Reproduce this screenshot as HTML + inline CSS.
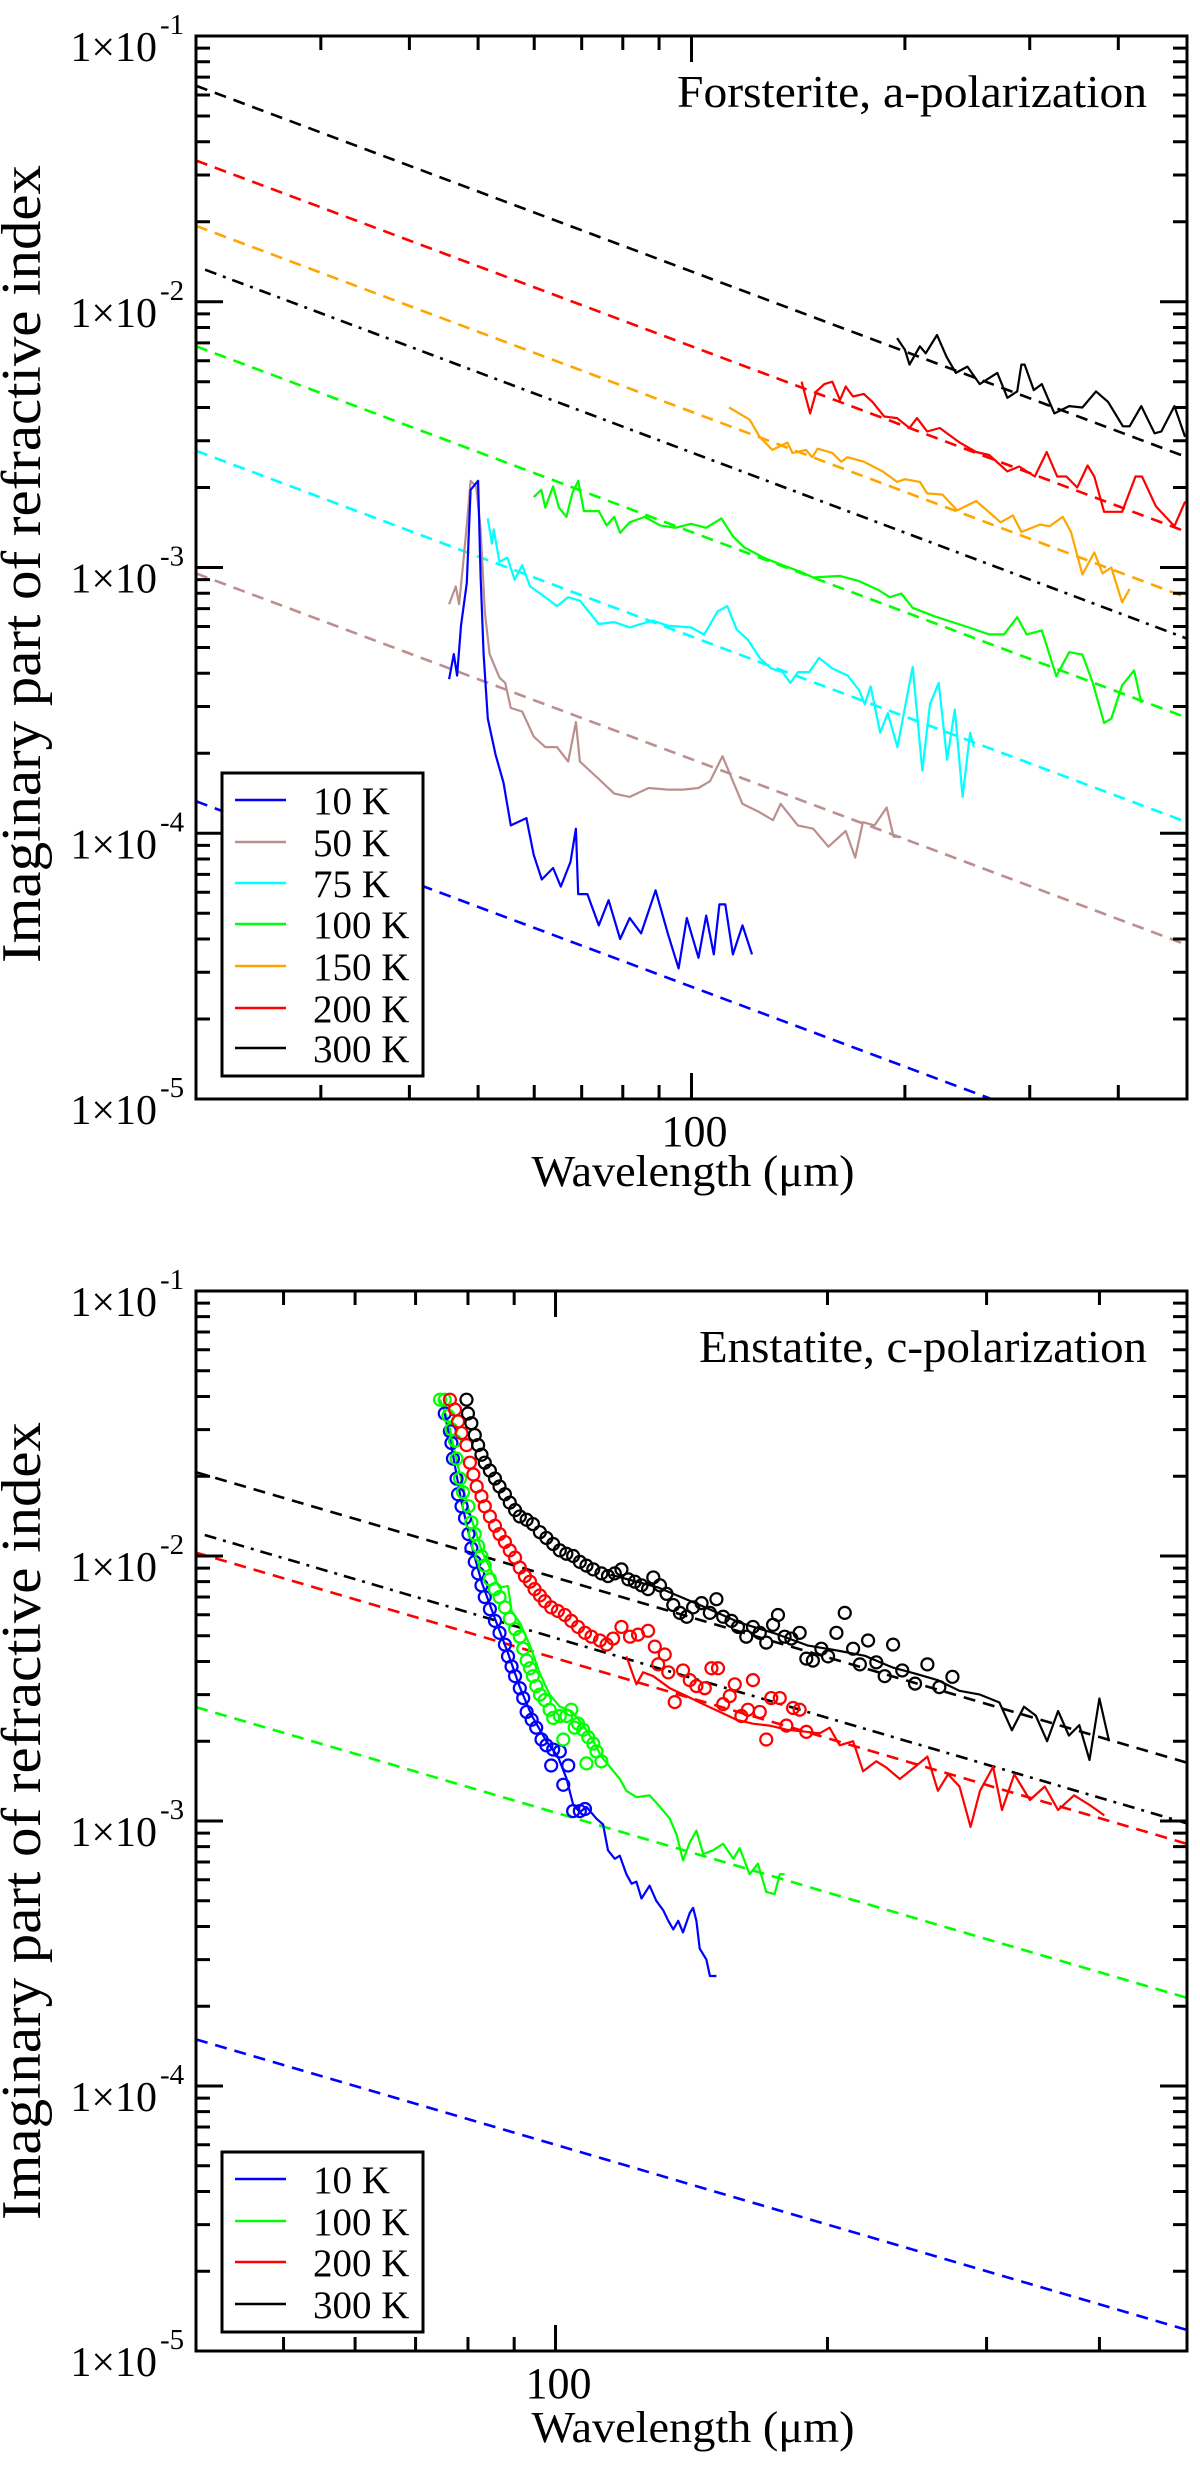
<!DOCTYPE html>
<html><head><meta charset="utf-8"><title>Imaginary refractive index</title>
<style>html,body{margin:0;padding:0;background:#fff}svg{display:block}svg text{font-family:"Liberation Serif","Times New Roman","DejaVu Serif",serif;fill:#000}</style>
</head><body>
<svg id="fig" width="1200" height="2467" viewBox="0 0 1200 2467" xmlns="http://www.w3.org/2000/svg" font-family="Liberation Serif, Times New Roman, serif">
<defs>
<clipPath id="clipTop"><rect x="196" y="36" width="991" height="1063"/></clipPath>
<clipPath id="clipBot"><rect x="196" y="1291" width="991" height="1060"/></clipPath>
</defs>
<g id="topPlot"></g>
<g id="botPlot"></g>

<text x="1147" y="107" text-anchor="end" font-size="46" textLength="470" lengthAdjust="spacingAndGlyphs">Forsterite, a-polarization</text>
<text x="1147" y="1362" text-anchor="end" font-size="46" textLength="448" lengthAdjust="spacingAndGlyphs">Enstatite, c-polarization</text>

<text transform="translate(40,564) rotate(-90)" text-anchor="middle" font-size="56" textLength="798" lengthAdjust="spacingAndGlyphs">Imaginary part of refractive index</text>
<text transform="translate(40,1821) rotate(-90)" text-anchor="middle" font-size="56" textLength="798" lengthAdjust="spacingAndGlyphs">Imaginary part of refractive index</text>
<text x="693" y="1186" text-anchor="middle" font-size="44" textLength="323" lengthAdjust="spacingAndGlyphs">Wavelength (μm)</text>
<text x="693" y="2442" text-anchor="middle" font-size="44" textLength="323" lengthAdjust="spacingAndGlyphs">Wavelength (μm)</text>

<g>
<rect x="222" y="773" width="201" height="303" fill="#fff" stroke="#000" stroke-width="3"/>
<g><line x1="235" y1="800" x2="286" y2="800" stroke="#0000ff" stroke-width="2.5"/><text x="313" y="814" font-size="39">10 K</text></g>
<g><line x1="235" y1="842" x2="286" y2="842" stroke="#bc8f8f" stroke-width="2.5"/><text x="313" y="856" font-size="39">50 K</text></g>
<g><line x1="235" y1="883" x2="286" y2="883" stroke="#00ffff" stroke-width="2.5"/><text x="313" y="897" font-size="39">75 K</text></g>
<g><line x1="235" y1="924" x2="286" y2="924" stroke="#00ff00" stroke-width="2.5"/><text x="313" y="938" font-size="39">100 K</text></g>
<g><line x1="235" y1="966" x2="286" y2="966" stroke="#ffa500" stroke-width="2.5"/><text x="313" y="980" font-size="39">150 K</text></g>
<g><line x1="235" y1="1008" x2="286" y2="1008" stroke="#ff0000" stroke-width="2.5"/><text x="313" y="1022" font-size="39">200 K</text></g>
<g><line x1="235" y1="1048" x2="286" y2="1048" stroke="#000" stroke-width="2.5"/><text x="313" y="1062" font-size="39">300 K</text></g>
</g>
<g>
<rect x="222" y="2152" width="201" height="180" fill="#fff" stroke="#000" stroke-width="3"/>
<g><line x1="235" y1="2179" x2="286" y2="2179" stroke="#0000ff" stroke-width="2.5"/><text x="313" y="2193" font-size="39">10 K</text></g>
<g><line x1="235" y1="2221" x2="286" y2="2221" stroke="#00ff00" stroke-width="2.5"/><text x="313" y="2235" font-size="39">100 K</text></g>
<g><line x1="235" y1="2262" x2="286" y2="2262" stroke="#ff0000" stroke-width="2.5"/><text x="313" y="2276" font-size="39">200 K</text></g>
<g><line x1="235" y1="2304" x2="286" y2="2304" stroke="#000" stroke-width="2.5"/><text x="313" y="2318" font-size="39">300 K</text></g>
</g>
</svg>
<script>
// ---------- axis data ----------
const topXRange = [20, 500];
const botXRange = [40, 500];
const yRange = [1e-5, 1e-1];
const topXMajorTicks = [100];
const topXMinorTicks = [30, 40, 50, 60, 70, 80, 90, 200, 300, 400];
const botXMajorTicks = [100];
const botXMinorTicks = [50, 60, 70, 80, 90, 200, 300, 400];
const yMajorTicks = [1e-1, 1e-2, 1e-3, 1e-4, 1e-5];
const yTickExponents = ['-1', '-2', '-3', '-4', '-5'];
const xTickLabels = ['100'];

// ---------- top panel fit lines: [x0, y0, x1, y1] ----------
const topFit300 = [20, 6.5e-2, 500, 2.6e-3];
const topFit200 = [20, 3.4e-2, 500, 1.36e-3];
const topFit150 = [20, 1.93e-2, 500, 7.7e-4];
const topFitDashDot = [20.6, 1.32e-2, 500, 5.4e-4];
const topFit100 = [20, 6.8e-3, 500, 2.72e-4];
const topFit75 = [20, 2.75e-3, 500, 1.1e-4];
const topFit50 = [20, 9.5e-4, 500, 3.8e-5];
const topFit10 = [20, 1.32e-4, 500, 5.3e-6];

// ---------- top panel measured spectra [wavelength, k] ----------
const top10K = [[45.5,3.8e-4],[46.2,4.72e-4],[46.7,3.92e-4],[47.3,6.04e-4],[48.2,8.75e-4],[48.8,1.96e-3],[50.0,2.12e-3],[50.4,9.3e-4],[50.9,4.72e-4],[51.6,2.7e-4],[52.9,1.98e-4],[54.3,1.55e-4],[55.6,1.07e-4],[58.5,1.14e-4],[59.9,8.3e-5],[61.5,6.7e-5],[63.8,7.4e-5],[65.4,6.3e-5],[67.5,7.8e-5],[68.7,1.04e-4],[69.2,5.9e-5],[71.3,5.9e-5],[74.0,4.5e-5],[76.4,5.6e-5],[79.3,4.0e-5],[81.8,4.8e-5],[84.9,4.2e-5],[89.0,6.1e-5],[92.6,4.2e-5],[95.9,3.1e-5],[98.5,4.8e-5],[102.3,3.4e-5],[104.9,4.9e-5],[107.5,3.5e-5],[109.5,5.4e-5],[111.6,5.4e-5],[114.4,3.5e-5],[118.0,4.5e-5],[121.7,3.5e-5]];
const top50K = [[45.5,7.27e-4],[46.5,8.49e-4],[47.0,7.27e-4],[47.6,1.02e-3],[48.2,1.44e-3],[48.8,2.12e-3],[49.7,2.02e-3],[50.4,1.39e-3],[51.1,6.83e-4],[51.9,4.72e-4],[53.6,3.85e-4],[54.6,3.68e-4],[55.6,2.96e-4],[57.7,2.87e-4],[59.9,2.31e-4],[62.2,2.11e-4],[64.6,2.11e-4],[67.0,1.86e-4],[68.7,2.62e-4],[69.6,1.86e-4],[74.0,1.60e-4],[77.8,1.41e-4],[81.8,1.37e-4],[87.0,1.48e-4],[92.6,1.46e-4],[97.3,1.46e-4],[102.3,1.48e-4],[106.2,1.57e-4],[110.6,1.95e-4],[114.4,1.57e-4],[118.0,1.29e-4],[124.0,1.21e-4],[130.3,1.12e-4],[133.6,1.29e-4],[141.3,1.07e-4],[148.5,1.04e-4],[156.0,8.9e-5],[165.0,1.02e-4],[170.2,8.1e-5],[174.5,1.10e-4],[181.2,1.07e-4],[188.5,1.25e-4],[192.8,9.7e-5],[197.6,9.7e-5]];
const top75K = [[51.6,1.53e-3],[52.3,1.23e-3],[52.6,1.39e-3],[53.6,1.05e-3],[55.0,1.09e-3],[56.3,9.0e-4],[57.7,1.02e-3],[59.2,8.49e-4],[62.2,7.73e-4],[64.6,7.16e-4],[67.0,7.73e-4],[69.6,7.5e-4],[74.0,6.13e-4],[77.8,6.23e-4],[81.8,5.95e-4],[88.1,6.32e-4],[92.6,6.04e-4],[99.8,5.95e-4],[104.2,5.59e-4],[108.8,6.83e-4],[112.3,7.16e-4],[115.8,5.85e-4],[120.2,5.33e-4],[124.8,4.57e-4],[129.5,4.17e-4],[134.4,4.04e-4],[137.9,3.68e-4],[141.3,4.04e-4],[146.6,4.04e-4],[151.3,4.57e-4],[158.0,4.17e-4],[166.1,3.92e-4],[172.3,3.46e-4],[175.6,3.06e-4],[178.9,3.57e-4],[184.6,2.39e-4],[189.2,2.83e-4],[195.2,2.11e-4],[205.1,4.23e-4],[211.6,1.72e-4],[217.0,3.06e-4],[223.2,3.68e-4],[229.4,1.89e-4],[235.2,2.92e-4],[241.2,1.37e-4],[247.2,2.39e-4],[250.3,2.11e-4]];
const top100K = [[59.9,1.84e-3],[61.4,1.96e-3],[62.2,1.68e-3],[63.8,2.02e-3],[65.0,1.68e-3],[66.6,1.55e-3],[67.9,1.90e-3],[69.2,2.12e-3],[70.5,1.63e-3],[74.0,1.63e-3],[75.9,1.44e-3],[77.8,1.55e-3],[79.3,1.35e-3],[81.8,1.48e-3],[85.9,1.55e-3],[90.3,1.44e-3],[94.9,1.41e-3],[99.8,1.46e-3],[104.9,1.41e-3],[110.2,1.53e-3],[114.4,1.31e-3],[118.7,1.19e-3],[126.4,1.09e-3],[134.4,1.02e-3],[143.1,9.6e-4],[148.5,9.17e-4],[162.0,9.3e-4],[172.3,8.89e-4],[183.5,8.23e-4],[190.4,7.73e-4],[197.6,7.98e-4],[205.1,7.05e-4],[221.0,6.53e-4],[244,6.0e-4],[263,5.6e-4],[276,5.6e-4],[288,6.5e-4],[297,5.6e-4],[312,5.8e-4],[327,3.9e-4],[341,4.8e-4],[356,4.7e-4],[368,3.7e-4],[382,2.6e-4],[391,2.7e-4],[405,3.6e-4],[421,4.1e-4],[431,3.1e-4]];
const top150K = [[113,4.0e-3],[120.8,3.6e-3],[124.8,3.1e-3],[130,2.77e-3],[136.6,2.95e-3],[138.8,2.7e-3],[145,2.77e-3],[148,2.6e-3],[150.6,2.8e-3],[158,2.7e-3],[162.6,2.5e-3],[166,2.6e-3],[175,2.5e-3],[186,2.3e-3],[195,2.1e-3],[200,2.15e-3],[210,2.1e-3],[215,1.9e-3],[226,1.88e-3],[237,1.64e-3],[252,1.78e-3],[273,1.48e-3],[284,1.57e-3],[292,1.36e-3],[310,1.45e-3],[320,1.43e-3],[334,1.55e-3],[343,1.36e-3],[356,9.4e-4],[370,1.14e-3],[380,9.5e-4],[391,1.0e-3],[405,7.4e-4],[415,8.3e-4]];
const top200K = [[143,5.0e-3],[147,3.8e-3],[150,4.6e-3],[154,4.9e-3],[158,5.0e-3],[162,4.27e-3],[165,4.8e-3],[169,4.4e-3],[175,4.5e-3],[180,4.2e-3],[187,3.7e-3],[195,3.65e-3],[203,3.35e-3],[208,3.65e-3],[215,3.25e-3],[224,3.35e-3],[239,2.95e-3],[252,2.72e-3],[263,2.65e-3],[279,2.3e-3],[290,2.4e-3],[305,2.2e-3],[317,2.72e-3],[328,2.2e-3],[338,2.2e-3],[350,2.0e-3],[362,2.42e-3],[370,2.2e-3],[382,1.62e-3],[405,1.62e-3],[423,2.2e-3],[432,2.2e-3],[452,1.7e-3],[480,1.43e-3],[497,1.77e-3]];
const top300K = [[195,7.3e-3],[200,6.6e-3],[203,5.8e-3],[210,6.8e-3],[214,6.4e-3],[222,7.5e-3],[229,6.2e-3],[236,5.4e-3],[245,5.7e-3],[255,4.9e-3],[270,5.4e-3],[279,4.35e-3],[288,4.6e-3],[292,5.8e-3],[295,5.8e-3],[304,4.65e-3],[312,4.9e-3],[325,3.8e-3],[341,4.05e-3],[356,4.0e-3],[372,4.6e-3],[387,4.2e-3],[406,3.4e-3],[415,3.4e-3],[431,4.05e-3],[450,3.2e-3],[460,3.25e-3],[480,4.05e-3],[497,3.1e-3]];

// ---------- bottom panel fit lines ----------
const botFit300 = [40, 2.07e-2, 500, 1.66e-3];
const botFitDashDot = [40.9, 1.2e-2, 500, 9.8e-4];
const botFit200 = [40, 1.03e-2, 500, 8.2e-4];
const botFit100 = [40, 2.69e-3, 500, 2.15e-4];
const botFit10 = [40, 1.5e-4, 500, 1.2e-5];

// ---------- bottom panel measured (lines) ----------
const bot10KLine = [[75.4,3.45e-2],[77.0,2.4e-2],[78.7,1.6e-2],[80.7,1.1e-2],[82.8,8.0e-3],[85.7,5.8e-3],[88.6,4.3e-3],[91.3,3.2e-3],[94.1,2.5e-3],[97.7,2.0e-3],[100.6,1.75e-3],[102.8,1.45e-3],[104.6,1.15e-3],[106.4,1.08e-3],[108.2,1.13e-3],[111.0,1.02e-3],[112.9,9.7e-4],[114.3,7.75e-4],[116.3,7.2e-4],[117.8,7.4e-4],[119.8,6.3e-4],[121.4,5.8e-4],[122.9,5.9e-4],[124.5,5.1e-4],[127.1,5.7e-4],[129.3,5.0e-4],[131.6,4.6e-4],[133.3,4.2e-4],[135.0,3.9e-4],[136.7,4.2e-4],[138.4,3.8e-4],[140.8,4.5e-4],[142.0,4.7e-4],[143.2,4.2e-4],[144.4,3.3e-4],[146.9,3.0e-4],[148.2,2.6e-4],[150.7,2.6e-4]];
const bot100KLine = [[74.5,3.9e-2],[76.1,3.2e-2],[77.7,2.3e-2],[80.1,1.5e-2],[82.8,1.05e-2],[85.7,8.2e-3],[86.7,7.6e-3],[88.6,7.7e-3],[89.4,6.2e-3],[91.3,5.6e-3],[93.7,4.6e-3],[96.1,3.6e-3],[98.5,3.0e-3],[101.1,2.7e-3],[104.1,2.6e-3],[107.3,2.3e-3],[110.1,2.0e-3],[112.4,1.75e-3],[117.8,1.44e-3],[119.8,1.30e-3],[122.9,1.23e-3],[127.1,1.25e-3],[130.5,1.13e-3],[133.8,1.02e-3],[136.1,8.9e-4],[138.4,7.1e-4],[140.8,8.3e-4],[143.2,9.2e-4],[145.7,7.5e-4],[149.4,7.75e-4],[153.3,8.2e-4],[157.3,7.2e-4],[159.9,7.9e-4],[164.0,6.3e-4],[167.5,6.9e-4],[171.1,5.4e-4],[174.8,5.3e-4],[177.1,6.3e-4],[179.3,6.3e-4]];
const bot200KLine = [[119.8,4.18e-3],[122.9,3.28e-3],[125.0,3.64e-3],[128.3,3.52e-3],[133.8,3.17e-3],[139.7,2.96e-3],[145.7,2.76e-3],[152,2.58e-3],[158.6,2.41e-3],[165.4,2.33e-3],[172.6,2.29e-3],[180.1,2.21e-3],[189.5,2.17e-3],[196.0,2.14e-3],[201.1,2.25e-3],[206.3,1.93e-3],[213.5,2.0e-3],[219.0,1.54e-3],[226.5,1.68e-3],[232.4,1.59e-3],[240.5,1.44e-3],[250,1.6e-3],[258,1.75e-3],[265,1.3e-3],[272,1.5e-3],[280,1.35e-3],[288,9.5e-4],[295,1.3e-3],[305,1.6e-3],[312,1.1e-3],[322,1.5e-3],[335,1.2e-3],[348,1.35e-3],[360,1.1e-3],[375,1.25e-3],[390,1.15e-3],[405,1.05e-3]];
const bot300KLine = [[115,8.5e-3],[130,7.6e-3],[145,6.5e-3],[160,5.6e-3],[175,5.1e-3],[190,4.6e-3],[205,4.4e-3],[220,4.2e-3],[236,3.8e-3],[250,3.6e-3],[265,3.4e-3],[280,3.1e-3],[295,3.0e-3],[310,2.8e-3],[320,2.2e-3],[330,2.7e-3],[340,2.5e-3],[350,2.0e-3],[360,2.6e-3],[370,2.1e-3],[380,2.3e-3],[390,1.7e-3],[400,2.9e-3],[410,2.0e-3]];

// ---------- bottom panel measured (circles) ----------
const bot10KPts = [[75.4,3.45e-2],[76.4,2.96e-2],[76.7,2.67e-2],[77.0,2.33e-2],[77.7,1.96e-2],[78.0,1.71e-2],[78.7,1.54e-2],[79.4,1.39e-2],[80.1,1.21e-2],[80.7,1.07e-2],[81.4,9.5e-3],[82.1,8.6e-3],[82.8,7.75e-3],[83.5,7.0e-3],[84.6,6.3e-3],[85.7,5.69e-3],[86.7,5.13e-3],[87.9,4.63e-3],[88.6,4.18e-3],[89.4,3.83e-3],[90.2,3.52e-3],[91.3,3.17e-3],[92.1,2.91e-3],[92.9,2.58e-3],[94.1,2.41e-3],[95.2,2.25e-3],[96.5,2.03e-3],[97.7,1.93e-3],[99.4,1.86e-3],[101.1,1.83e-3],[98.9,1.62e-3],[103.3,1.62e-3],[102.0,1.37e-3],[104.6,1.09e-3],[106.4,1.09e-3],[107.8,1.11e-3]];
const bot100KPts = [[74.5,3.89e-2],[75.4,3.89e-2],[76.1,3.38e-2],[76.7,3.01e-2],[77.4,2.72e-2],[77.7,2.33e-2],[78.4,1.96e-2],[79.0,1.74e-2],[80.1,1.54e-2],[80.7,1.34e-2],[81.4,1.21e-2],[82.1,1.09e-2],[82.8,1.00e-2],[83.5,9.2e-3],[84.6,8.16e-3],[85.7,7.5e-3],[86.7,7.0e-3],[87.9,6.4e-3],[89.0,5.8e-3],[90.2,5.3e-3],[91.3,4.96e-3],[92.1,4.47e-3],[92.9,4.03e-3],[93.7,3.77e-3],[94.4,3.52e-3],[95.2,3.23e-3],[96.1,3.0e-3],[97.3,2.86e-3],[98.5,2.63e-3],[99.4,2.45e-3],[101.1,2.49e-3],[102.8,2.49e-3],[104.1,2.63e-3],[105.0,2.25e-3],[105.9,2.33e-3],[107.3,2.21e-3],[108.7,2.07e-3],[110.1,1.96e-3],[111.0,1.83e-3],[112.4,1.68e-3],[108.2,1.65e-3],[102.0,2.03e-3]];
const bot200KPts = [[76.4,3.89e-2],[77.4,3.57e-2],[78.0,3.22e-2],[78.7,2.91e-2],[79.7,2.62e-2],[80.4,2.25e-2],[81.1,2.03e-2],[81.8,1.83e-2],[82.8,1.68e-2],[83.5,1.54e-2],[84.6,1.41e-2],[85.7,1.30e-2],[86.7,1.21e-2],[87.9,1.13e-2],[89.0,1.05e-2],[90.2,9.86e-3],[91.3,9.04e-3],[92.5,8.4e-3],[93.7,8.0e-3],[94.8,7.5e-3],[96.1,7.1e-3],[97.3,6.75e-3],[98.9,6.4e-3],[100.6,6.2e-3],[102.4,5.99e-3],[104.1,5.69e-3],[105.9,5.4e-3],[107.8,5.13e-3],[109.6,4.96e-3],[112.0,4.8e-3],[113.9,4.63e-3],[115.8,4.88e-3],[118.3,5.4e-3],[120.9,4.96e-3],[123.4,5.05e-3],[126.6,5.22e-3],[128.8,4.55e-3],[132.1,4.25e-3],[129.9,3.9e-3],[133.3,3.64e-3],[135.5,2.81e-3],[138.4,3.70e-3],[140.8,3.40e-3],[143.2,3.23e-3],[146.3,3.17e-3],[148.8,3.77e-3],[151.3,3.77e-3],[153.3,2.76e-3],[155.9,2.96e-3],[157.9,3.28e-3],[160.6,2.49e-3],[163.3,2.63e-3],[165.4,3.40e-3],[168.3,2.58e-3],[171.1,2.03e-3],[173.3,2.91e-3],[177.1,2.91e-3],[180.1,2.29e-3],[183.2,2.67e-3],[186.3,2.63e-3],[189.5,2.17e-3]];
const bot300KPts = [[79.7,3.89e-2],[80.0,3.45e-2],[80.7,3.17e-2],[81.4,2.86e-2],[82.1,2.62e-2],[82.8,2.41e-2],[83.5,2.25e-2],[84.6,2.10e-2],[85.7,1.96e-2],[86.7,1.83e-2],[87.9,1.71e-2],[89.0,1.59e-2],[90.2,1.49e-2],[91.3,1.41e-2],[92.9,1.37e-2],[94.4,1.32e-2],[96.1,1.23e-2],[97.7,1.17e-2],[99.4,1.11e-2],[101.1,1.05e-2],[102.8,1.02e-2],[104.6,1.00e-2],[106.4,9.5e-3],[108.2,9.2e-3],[110.1,8.9e-3],[112.4,8.6e-3],[114.3,8.4e-3],[116.3,8.6e-3],[118.3,8.9e-3],[120.4,8.16e-3],[122.4,8.0e-3],[124.5,7.75e-3],[126.6,7.5e-3],[128.3,8.3e-3],[130.5,7.75e-3],[132.7,7.2e-3],[135.0,6.53e-3],[137.3,6.1e-3],[139.7,5.9e-3],[142.0,6.4e-3],[145.1,6.64e-3],[148.2,6.1e-3],[150.7,6.87e-3],[153.3,5.9e-3],[156.6,5.69e-3],[159.2,5.4e-3],[162.6,4.96e-3],[165.4,5.4e-3],[168.3,5.13e-3],[171.1,4.71e-3],[174.1,5.5e-3],[176.3,5.99e-3],[179.3,4.96e-3],[182.4,4.88e-3],[186.3,5.13e-3],[189.5,4.1e-3],[192.7,4.03e-3],[196.9,4.47e-3],[200.3,4.18e-3],[204.6,5.13e-3],[209.0,6.1e-3],[213.5,4.47e-3],[217.2,3.9e-3],[221.8,4.8e-3],[226.5,3.97e-3],[231.4,3.52e-3],[236.4,4.63e-3],[242,3.7e-3],[250,3.3e-3],[258,3.9e-3],[266,3.2e-3],[275,3.5e-3]];

// ---------- rendering ----------
const NS = 'http://www.w3.org/2000/svg';
function mk(tag, parent) { const e = document.createElementNS(NS, tag); parent.appendChild(e); return e; }

function makeAxes(L, R, T, B, xr, yr) {
  const lx0 = Math.log10(xr[0]), lx1 = Math.log10(xr[1]);
  const ly0 = Math.log10(yr[0]), ly1 = Math.log10(yr[1]);
  return {
    L, R, T, B,
    x: v => L + (Math.log10(v) - lx0) / (lx1 - lx0) * (R - L),
    y: v => B - (Math.log10(v) - ly0) / (ly1 - ly0) * (B - T)
  };
}

function drawFit(g, ax, fit, color, dash, name) {
  const ln = mk('line', g);
  ln.setAttribute('x1', ax.x(fit[0])); ln.setAttribute('y1', ax.y(fit[1]));
  ln.setAttribute('x2', ax.x(fit[2])); ln.setAttribute('y2', ax.y(fit[3]));
  ln.setAttribute('stroke', color); ln.setAttribute('stroke-width', '2.6');
  ln.setAttribute('stroke-dasharray', dash);
  
  
}

function drawLine(g, ax, pts, color, name) {
  const d = pts.map((p, i) => (i ? 'L' : 'M') + ax.x(p[0]).toFixed(1) + ' ' + ax.y(p[1]).toFixed(1)).join(' ');
  const p = mk('path', g);
  p.setAttribute('d', d); p.setAttribute('fill', 'none');
  p.setAttribute('stroke', color); p.setAttribute('stroke-width', '2.2');
  p.setAttribute('stroke-linejoin', 'round');
  
  
}

function drawPoints(g, ax, pts, color, name) {
  const grp = mk('g', g);
  
  
  pts.forEach(pt => {
    const c = mk('circle', grp);
    c.setAttribute('cx', ax.x(pt[0])); c.setAttribute('cy', ax.y(pt[1]));
    c.setAttribute('r', '6'); c.setAttribute('fill', 'none');
    c.setAttribute('stroke', color); c.setAttribute('stroke-width', '2.2');
    
    
  });
}

function drawFrame(g, ax, majX, minX, prefix) {
  const fr = mk('rect', g);
  fr.setAttribute('x', ax.L); fr.setAttribute('y', ax.T);
  fr.setAttribute('width', ax.R - ax.L); fr.setAttribute('height', ax.B - ax.T);
  fr.setAttribute('fill', 'none'); fr.setAttribute('stroke', '#000'); fr.setAttribute('stroke-width', '3');
  
  
  let d = '';
  majX.forEach(v => { const x = ax.x(v); d += `M${x} ${ax.B}V${ax.B - 26}M${x} ${ax.T}V${ax.T + 26}`; });
  minX.forEach(v => { const x = ax.x(v); d += `M${x} ${ax.B}V${ax.B - 14}M${x} ${ax.T}V${ax.T + 14}`; });
  yMajorTicks.forEach((v, i) => {
    const y = ax.y(v);
    d += `M${ax.L} ${y}H${ax.L + 27}M${ax.R} ${y}H${ax.R - 27}`;
    if (i < yMajorTicks.length - 1) {
      for (let m = 2; m <= 9; m++) {
        const ym = ax.y(v / 10 * m);
        d += `M${ax.L} ${ym}H${ax.L + 14}M${ax.R} ${ym}H${ax.R - 14}`;
      }
    }
  });
  const tk = mk('path', g);
  tk.setAttribute('d', d); tk.setAttribute('stroke', '#000'); tk.setAttribute('stroke-width', '3'); tk.setAttribute('fill', 'none');
  
  

  yMajorTicks.forEach((v, i) => {
    const y = ax.y(v);
    const t = mk('text', g);
    t.setAttribute('x', 157); t.setAttribute('y', y + 25); t.setAttribute('text-anchor', 'end');
    t.setAttribute('font-size', '42');
    
    
    t.textContent = '1×10';
    const s = mk('text', g);
    s.setAttribute('x', 160); s.setAttribute('y', y - 2); s.setAttribute('font-size', '29');
    
    
    s.textContent = yTickExponents[i];
  });
  majX.forEach((v, i) => {
    const t = mk('text', g);
    t.setAttribute('x', ax.x(v) + 3); t.setAttribute('y', ax.B + 47); t.setAttribute('text-anchor', 'middle');
    t.setAttribute('font-size', '44');
    
    
    t.textContent = xTickLabels[i];
  });
}

const DASH = '12 8', DASHDOT = '12 7 3 7';

// top panel
(function () {
  const g = document.getElementById('topPlot');
  const ax = makeAxes(196, 1187, 36, 1099, topXRange, yRange);
  const c = mk('g', g); c.setAttribute('clip-path', 'url(#clipTop)');
  
  
  drawFit(c, ax, topFit300, '#000', DASH, 'fit-300k');
  drawFit(c, ax, topFit200, '#ff0000', DASH, 'fit-200k');
  drawFit(c, ax, topFit150, '#ffa500', DASH, 'fit-150k');
  drawFit(c, ax, topFitDashDot, '#000', DASHDOT, 'fit-dash-dot');
  drawFit(c, ax, topFit100, '#00ff00', DASH, 'fit-100k');
  drawFit(c, ax, topFit75, '#00ffff', DASH, 'fit-75k');
  drawFit(c, ax, topFit50, '#bc8f8f', DASH, 'fit-50k');
  drawFit(c, ax, topFit10, '#0000ff', DASH, 'fit-10k');
  drawLine(c, ax, top300K, '#000', 'series-300k');
  drawLine(c, ax, top200K, '#ff0000', 'series-200k');
  drawLine(c, ax, top150K, '#ffa500', 'series-150k');
  drawLine(c, ax, top100K, '#00ff00', 'series-100k');
  drawLine(c, ax, top75K, '#00ffff', 'series-75k');
  drawLine(c, ax, top50K, '#bc8f8f', 'series-50k');
  drawLine(c, ax, top10K, '#0000ff', 'series-10k');
  drawFrame(g, ax, topXMajorTicks, topXMinorTicks, 'top');
})();

// bottom panel
(function () {
  const g = document.getElementById('botPlot');
  const ax = makeAxes(196, 1187, 1291, 2351, botXRange, yRange);
  const c = mk('g', g); c.setAttribute('clip-path', 'url(#clipBot)');
  
  
  drawFit(c, ax, botFit300, '#000', DASH, 'fit-300k');
  drawFit(c, ax, botFitDashDot, '#000', DASHDOT, 'fit-dash-dot');
  drawFit(c, ax, botFit200, '#ff0000', DASH, 'fit-200k');
  drawFit(c, ax, botFit100, '#00ff00', DASH, 'fit-100k');
  drawFit(c, ax, botFit10, '#0000ff', DASH, 'fit-10k');
  drawLine(c, ax, bot300KLine, '#000', 'series-300k-line');
  drawLine(c, ax, bot200KLine, '#ff0000', 'series-200k-line');
  drawLine(c, ax, bot100KLine, '#00ff00', 'series-100k-line');
  drawLine(c, ax, bot10KLine, '#0000ff', 'series-10k-line');
  drawPoints(c, ax, bot10KPts, '#0000ff', 'series-10k-points');
  drawPoints(c, ax, bot100KPts, '#00ff00', 'series-100k-points');
  drawPoints(c, ax, bot200KPts, '#ff0000', 'series-200k-points');
  drawPoints(c, ax, bot300KPts, '#000', 'series-300k-points');
  drawFrame(g, ax, botXMajorTicks, botXMinorTicks, 'bottom');
})();
</script>
</body></html>
